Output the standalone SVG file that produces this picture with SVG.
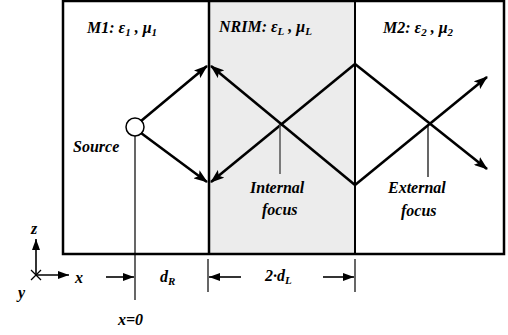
<svg xmlns="http://www.w3.org/2000/svg" width="508" height="335" viewBox="0 0 508 335">
<defs>
<style>
.lbl{font-family:"Liberation Serif","Times New Roman",serif;font-weight:bold;font-style:italic;font-size:16px;fill:#000}
.sub{font-size:11px}
.ray{stroke:#000;stroke-width:2.6;fill:none}
.thin{stroke:#000;stroke-width:1.2;fill:none}
.dim{stroke:#000;stroke-width:1.6;fill:none}
</style>
<marker id="ah" viewBox="0 0 14 10" refX="13" refY="5" markerWidth="14" markerHeight="10" markerUnits="userSpaceOnUse" orient="auto">
<path d="M0,0 L14,5 L0,10 L3,5 Z" fill="#000"/>
</marker>
<marker id="ahs" viewBox="0 0 11 8" refX="11" refY="4" markerWidth="11" markerHeight="8" markerUnits="userSpaceOnUse" orient="auto">
<path d="M0,0 L11,4 L0,8 Z" fill="#000"/>
</marker>
</defs>
<rect width="508" height="335" fill="#fff"/>
<g id="slab">
<rect x="209" y="1" width="146" height="253" fill="#ececec"/>
</g>
<g id="box">
<rect x="63" y="1" width="441" height="253" fill="none" stroke="#000" stroke-width="2.5"/>
<line x1="209" y1="1" x2="209" y2="254" stroke="#000" stroke-width="2.5"/>
<line x1="355" y1="1" x2="355" y2="254" stroke="#000" stroke-width="2"/>
</g>
<g id="labels">
<text class="lbl" x="87" y="33">M1: ε<tspan class="sub" dy="3">1</tspan><tspan dy="-3"> , μ</tspan><tspan class="sub" dy="3">1</tspan></text>
<text class="lbl" x="219" y="32">NRIM: ε<tspan class="sub" dy="3">L</tspan><tspan dy="-3"> , μ</tspan><tspan class="sub" dy="3">L</tspan></text>
<text class="lbl" x="383" y="33">M2: ε<tspan class="sub" dy="3">2</tspan><tspan dy="-3"> , μ</tspan><tspan class="sub" dy="3">2</tspan></text>
</g>
<g id="source">
<circle cx="135" cy="127" r="9" fill="none" stroke="#000" stroke-width="1.5"/>
<text class="lbl" x="73" y="152">Source</text>
</g>
<g id="internal-focus">
<text class="lbl" x="250" y="193">Internal</text>
<text class="lbl" x="262" y="215">focus</text>
</g>
<g id="external-focus">
<text class="lbl" x="388" y="193">External</text>
<text class="lbl" x="401" y="216">focus</text>
</g>
<g id="connectors">
<line class="ray" x1="141" y1="121" x2="207" y2="66" marker-end="url(#ah)"/>
<line class="ray" x1="141" y1="133" x2="207" y2="182" marker-end="url(#ah)"/>
<line class="ray" x1="355" y1="185" x2="211" y2="66" marker-end="url(#ah)"/>
<line class="ray" x1="355" y1="64" x2="211" y2="182" marker-end="url(#ah)"/>
<line class="ray" x1="355" y1="64" x2="487" y2="169" marker-end="url(#ah)"/>
<line class="ray" x1="355" y1="185" x2="487" y2="77" marker-end="url(#ah)"/>
<line class="thin" x1="135" y1="136" x2="135" y2="300"/>
<line x1="280" y1="125" x2="280" y2="174" stroke="#555" stroke-width="1.5"/>
<line class="thin" x1="428" y1="125" x2="428" y2="177"/>
</g>
<g id="dimensions">
<line class="dim" x1="106" y1="277" x2="134" y2="277" marker-end="url(#ahs)"/>
<line class="thin" x1="208" y1="259" x2="208" y2="292"/>
<line class="thin" x1="355" y1="259" x2="355" y2="292"/>
<line class="dim" x1="241" y1="277" x2="209" y2="277" marker-end="url(#ahs)"/>
<line class="dim" x1="323" y1="277" x2="354" y2="277" marker-end="url(#ahs)"/>
<text class="lbl" x="160" y="282">d<tspan class="sub" dy="3">R</tspan></text>
<text class="lbl" x="265" y="281">2·d<tspan class="sub" dy="3">L</tspan></text>
<text class="lbl" x="118" y="325">x=0</text>
</g>
<g id="axes">
<line class="dim" x1="36" y1="275" x2="36" y2="239" marker-end="url(#ahs)"/>
<line class="dim" x1="36" y1="275" x2="69" y2="275" marker-end="url(#ahs)"/>
<line class="thin" x1="31" y1="270" x2="41" y2="280"/>
<line class="thin" x1="41" y1="270" x2="31" y2="280"/>
<text class="lbl" x="31" y="234">z</text>
<text class="lbl" x="75" y="283">x</text>
<text class="lbl" x="18" y="298">y</text>
</g>
</svg>
